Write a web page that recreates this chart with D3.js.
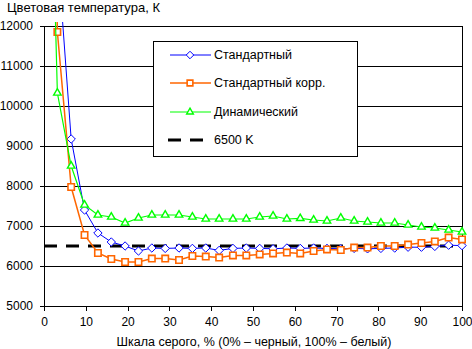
<!DOCTYPE html>
<html>
<head>
<meta charset="utf-8">
<script src="https://cdn.jsdelivr.net/npm/d3@7"></script>
<style>
    body { margin: 0; background: #fff; }
    text { font-family: "Liberation Sans", Arial, sans-serif; fill: #000; }
</style>
</head>
<body>
<script>
// gray level, % (32 steps)
var grayLevels = [0, 3.2, 6.5, 9.7, 12.9, 16.1, 19.4, 22.6, 25.8, 29.0, 32.3, 35.5, 38.7, 41.9, 45.2, 48.4,
    51.6, 54.8, 58.1, 61.3, 64.5, 67.7, 71.0, 74.2, 77.4, 80.6, 83.9, 87.1, 90.3, 93.5, 96.8, 100];

var standard = [30000, 13900, 9175, 7400, 6825, 6600, 6500, 6375, 6450, 6440, 6450, 6440, 6450, 6390, 6440, 6450,
    6440, 6430, 6450, 6440, 6450, 6440, 6430, 6440, 6430, 6440, 6450, 6470, 6470, 6490, 6520, 6510];

var standardCorr = [30000, 11850, 7975, 6775, 6325, 6175, 6100, 6100, 6185, 6185, 6150, 6250, 6235, 6210, 6265, 6265,
    6290, 6315, 6335, 6315, 6375, 6415, 6400, 6460, 6460, 6500, 6500, 6535, 6575, 6615, 6710, 6665];

var dynamic = [22900, 10325, 8500, 7525, 7275, 7225, 7075, 7200, 7275, 7275, 7275, 7225, 7175, 7175, 7175, 7175,
    7225, 7250, 7175, 7190, 7150, 7125, 7200, 7125, 7100, 7075, 7075, 7025, 6975, 6950, 6900, 6850];

var reference = [6500, 6500];
var referenceX = [0, 100];

var seriesNames = ["Стандартный", "Стандартный корр.", "Динамический", "6500 K"];
var xTicks = [0, 10, 20, 30, 40, 50, 60, 70, 80, 90, 100];
var yTicks = [5000, 6000, 7000, 8000, 9000, 10000, 11000, 12000];

window.onload = function(){
    var w = 472, h = 349;
    var left = 44, right = 462, top = 26, bottom = 306;

    var svg = d3.select("body")
        .append("svg")
        .attr("width", w)
        .attr("height", h);

    var x = d3.scaleLinear().domain([0, 100]).range([left, right]);
    var y = d3.scaleLinear().domain([5000, 12000]).range([bottom, top]);

    // clip so the huge first points run off the top like in the original
    svg.append("clipPath").attr("id", "plotClip")
        .append("rect")
        .attr("x", left - 6).attr("y", top - 4)
        .attr("width", right - left + 12).attr("height", bottom - top + 10);

    // horizontal gridlines
    svg.append("g")
        .selectAll("line")
        .data(yTicks.slice(1))
        .enter()
        .append("line")
        .attr("x1", left).attr("x2", right)
        .attr("y1", function(d){ return y(d); })
        .attr("y2", function(d){ return y(d); })
        .attr("stroke", "#000").attr("stroke-width", 1)
        .attr("shape-rendering", "crispEdges");

    // right border of the plot
    svg.append("line")
        .attr("x1", right).attr("x2", right)
        .attr("y1", top).attr("y2", bottom)
        .attr("stroke", "#000").attr("shape-rendering", "crispEdges");

    // axes
    var yAxis = d3.axisLeft(y).tickValues(yTicks).tickSize(4).tickPadding(7).tickFormat(d3.format("d"));
    var gy = svg.append("g")
        .attr("transform", "translate(" + left + ",0)")
        .call(yAxis);

    var xAxis = d3.axisBottom(x).tickValues(xTicks).tickSize(5).tickPadding(6);
    var gx = svg.append("g")
        .attr("transform", "translate(0," + bottom + ")")
        .call(xAxis);

    [gy, gx].forEach(function(g){
        g.select(".domain").attr("stroke", "#000").attr("shape-rendering", "crispEdges");
        g.selectAll(".tick line").attr("stroke", "#000").attr("shape-rendering", "crispEdges");
        g.selectAll(".tick text").style("font-size", "12px").style("font-family", "Liberation Sans, Arial, sans-serif").attr("fill", "#000");
    });

    var plot = svg.append("g").attr("clip-path", "url(#plotClip)");

    // 6500 K reference, drawn first so markers sit on top
    plot.append("path")
        .datum(referenceX.map(function(d, i){ return [d, reference[i]]; }))
        .attr("d", d3.line().x(function(d){ return x(d[0]); }).y(function(d){ return y(d[1]); }))
        .attr("fill", "none")
        .attr("stroke", "#000")
        .attr("stroke-width", 3)
        .attr("stroke-dasharray", "13,9");

    var series = [
        { name: seriesNames[0], values: standard, color: "#0000ff", width: 1, symbol: d3.symbolDiamond2, size: 45, sw: 1 },
        { name: seriesNames[1], values: standardCorr, color: "#ff6600", width: 1.5, symbol: d3.symbolSquare2, size: 52, sw: 1.6 },
        { name: seriesNames[2], values: dynamic, color: "#00ff00", width: 1.2, symbol: d3.symbolTriangle2, size: 40, sw: 1.4 }
    ];

    var line = d3.line()
        .x(function(d){ return x(d[0]); })
        .y(function(d){ return y(d[1]); });

    series.forEach(function(s){
        var pts = grayLevels.map(function(g, i){ return [g, s.values[i]]; });
        plot.append("path")
            .datum(pts)
            .attr("d", line)
            .attr("fill", "none")
            .attr("stroke", s.color)
            .attr("stroke-width", s.width);

        plot.selectAll(".m" + s.color.slice(1))
            .data(pts)
            .enter()
            .append("path")
            .attr("d", d3.symbol().type(s.symbol).size(s.size))
            .attr("transform", function(d){ return "translate(" + x(d[0]) + "," + y(d[1]) + ")"; })
            .attr("fill", "#fff")
            .attr("stroke", s.color)
            .attr("stroke-width", s.sw);
    });

    // legend
    var legend = svg.append("g").attr("class", "legend");
    legend.append("rect")
        .attr("x", 153.5).attr("y", 41.5)
        .attr("width", 204).attr("height", 115)
        .attr("fill", "#fff").attr("stroke", "#000");

    var rowY = [55, 83, 112, 140];
    series.forEach(function(s, i){
        legend.append("line")
            .attr("x1", 170).attr("x2", 211)
            .attr("y1", rowY[i]).attr("y2", rowY[i])
            .attr("stroke", s.color).attr("stroke-width", s.width);
        legend.append("path")
            .attr("d", d3.symbol().type(s.symbol).size(s.size * 0.8))
            .attr("transform", "translate(190," + rowY[i] + ")")
            .attr("fill", "#fff").attr("stroke", s.color).attr("stroke-width", s.sw);
        legend.append("text")
            .attr("x", 214).attr("y", rowY[i])
            .attr("dy", "0.35em")
            .style("font-size", "12.5px")
            .text(s.name);
    });
    legend.append("line")
        .attr("x1", 168).attr("x2", 212)
        .attr("y1", rowY[3]).attr("y2", rowY[3])
        .attr("stroke", "#000").attr("stroke-width", 3)
        .attr("stroke-dasharray", "13,9");
    legend.append("text")
        .attr("x", 214).attr("y", rowY[3])
        .attr("dy", "0.35em")
        .style("font-size", "12.5px")
        .text(seriesNames[3]);

    // titles
    svg.append("text")
        .attr("x", 7).attr("y", 12)
        .style("font-size", "13px")
        .text("Цветовая температура, К");

    svg.append("text")
        .attr("x", 254).attr("y", 346)
        .attr("text-anchor", "middle")
        .style("font-size", "12.5px")
        .text("Шкала серого, % (0% – черный, 100% – белый)");
};
</script>
</body>
</html>
